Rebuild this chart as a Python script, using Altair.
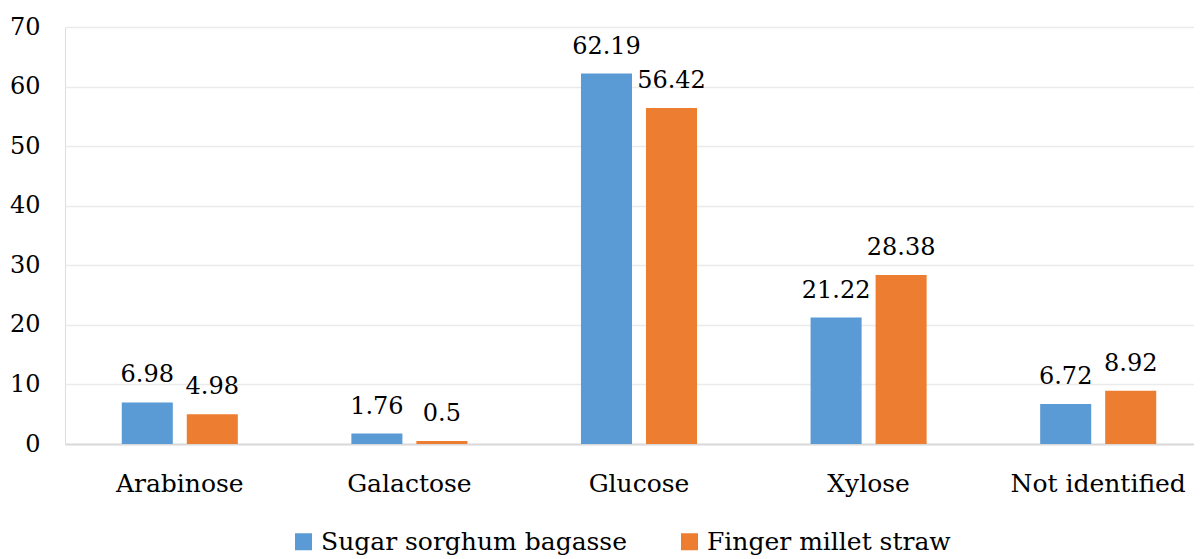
import altair as alt
import pandas as pd

categories = ["Arabinose", "Galactose", "Glucose", "Xylose", "Not identified"]
series = ["Sugar sorghum bagasse", "Finger millet straw"]
sorghum = [6.98, 1.76, 62.19, 21.22, 6.72]
millet = [4.98, 0.5, 56.42, 28.38, 8.92]
colors = ["#5B9BD5", "#ED7D31"]

rows = []
for c, a, b in zip(categories, sorghum, millet):
    rows.append({"cat": c, "series": series[0], "value": a, "label": f"{a:g}"})
    rows.append({"cat": c, "series": series[1], "value": b, "label": f"{b:g}"})
df = pd.DataFrame(rows)

FONT = "DejaVu Serif"

x = alt.X("cat:N", sort=categories, title=None,
          scale=alt.Scale(paddingInner=0, paddingOuter=0, range=[0, 1148]),
          axis=alt.Axis(labelAngle=0, labelFont=FONT, labelFontSize=25, labelColor="#000",
                        labelPadding=27, ticks=False, domainColor="#d9d9d9", domainWidth=2,
                        grid=False))
xo = alt.XOffset("series:N", sort=series,
                 scale=alt.Scale(paddingInner=0.215, paddingOuter=0.873))
y = alt.Y("value:Q", title=None,
          scale=alt.Scale(domain=[0, 70], nice=False),
          axis=alt.Axis(values=[0, 10, 20, 30, 40, 50, 60, 70], labelFont=FONT, labelFontSize=24,
                        labelColor="#000", labelPadding=25, ticks=False, domain=False,
                        grid=True, gridColor="#ebebeb", gridWidth=1.5))
color = alt.Color("series:N", sort=series,
                  scale=alt.Scale(domain=series, range=colors),
                  legend=alt.Legend(title=None, orient="none", direction="horizontal",
                                    legendX=226, legendY=502,
                                    symbolType="square", symbolSize=289,
                                    symbolStrokeWidth=0, labelFont=FONT, labelFontSize=25,
                                    labelColor="#000", labelOffset=5, columnPadding=50,
                                    labelLimit=400))

bars = alt.Chart(df).mark_bar().encode(x=x, xOffset=xo, y=y, color=color)
texts = alt.Chart(df).mark_text(font=FONT, fontSize=24, color="#000", baseline="alphabetic", dy=-20).encode(
    x=alt.X("cat:N", sort=categories), xOffset=alt.XOffset("series:N", sort=series),
    y="value:Q", text="label:N")

chart = alt.layer(bars, texts).properties(
    width=1129, height=417,
    autosize=alt.AutoSizeParams(type="none"),
    padding={"left": 57, "top": 19, "right": 0, "bottom": 115},
).configure_view(stroke=None).configure(background="white")

chart.save("out.html", embed_options={"renderer": "svg", "actions": False})
